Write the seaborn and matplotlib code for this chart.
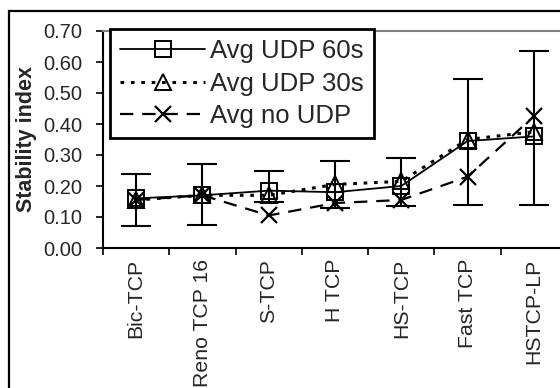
import numpy as np
import pandas as pd
import matplotlib
matplotlib.use("Agg")
import matplotlib.pyplot as plt
import seaborn as sns
from matplotlib.patches import Rectangle

# data
protocols = ["Bic-TCP", "Reno TCP 16", "S-TCP", "H TCP", "HS-TCP", "Fast TCP", "HSTCP-LP"]
udp_60s = [0.16, 0.17, 0.185, 0.18, 0.20, 0.345, 0.36]
udp_30s = [0.155, 0.17, 0.17, 0.205, 0.215, 0.35, 0.375]
no_udp = [0.155, 0.17, 0.105, 0.145, 0.155, 0.23, 0.425]
err_low = [0.07, 0.075, 0.15, 0.13, 0.135, 0.14, 0.14]
err_high = [0.24, 0.27, 0.25, 0.28, 0.29, 0.545, 0.635]
yticks = [0.0, 0.1, 0.2, 0.3, 0.4, 0.5, 0.6, 0.7]

sns.set_style("white")
plt.rcParams['font.family'] = ['Liberation Sans', 'DejaVu Sans']

W, H = 560, 388
fig = plt.figure(figsize=(W / 100, H / 100), dpi=100)
ax = fig.add_axes([103 / W, (H - 248) / H, 464 / W, 217 / H])

# outer chart border (only left and top visible)
fig.patches.append(Rectangle((8.5 / W, -0.1), 1.2, (H - 11) / H + 0.1, transform=fig.transFigure,
                             fill=False, edgecolor="black", lw=1.6, zorder=0))

x = np.arange(len(protocols))
center = np.array(udp_60s)
yerr = [center - np.array(err_low), np.array(err_high) - center]
ax.errorbar(x, center, yerr=yerr, fmt="none", ecolor="black", elinewidth=1.5,
            capsize=11, capthick=1.5, zorder=2)

df = pd.DataFrame({"x": x, "60": udp_60s, "30": udp_30s, "no": no_udp})
sns.lineplot(data=df, x="x", y="60", ax=ax, color="black", lw=1.3, marker="s", ms=11,
             mfc="none", mec="black", mew=1.4, label="Avg UDP 60s", zorder=3)
sns.lineplot(data=df, x="x", y="30", ax=ax, color="black", lw=2.2, marker="^", ms=12,
             mfc="none", mec="black", mew=1.4, linestyle=(0, (1.2, 2.2)),
             label="Avg UDP 30s", zorder=3)
sns.lineplot(data=df, x="x", y="no", ax=ax, color="black", lw=1.6, marker="x", ms=11,
             mec="black", mew=1.6, linestyle=(0, (6, 4)), label="Avg no UDP", zorder=3)

ax.set_xlim(-0.5, len(protocols) - 0.5)
ax.set_ylim(0, 0.70)
ax.set_yticks(yticks)
ax.set_yticklabels([f"{v:.2f}" for v in yticks], fontsize=14.5)
ax.set_xticks(x)
ax.set_xticklabels(protocols, rotation=90, fontsize=15.3)
ax.set_xticks(np.arange(len(protocols) + 1) - 0.5, minor=True)
ax.tick_params(axis="x", which="major", length=0, pad=8)
ax.tick_params(axis="x", which="minor", length=5, width=1.2, color="black", bottom=True)
ax.tick_params(axis="y", length=5, width=1.2, color="black", left=True, pad=10)
ax.set_xlabel("")
ax.set_ylabel("Stability index", fontsize=15.5, fontweight="bold", labelpad=4)

for s in ["left", "bottom"]:
    ax.spines[s].set_color("black")
    ax.spines[s].set_linewidth(1.5)
ax.spines["top"].set_color("#808080")
ax.spines["top"].set_linewidth(1.5)
ax.spines["right"].set_visible(False)

leg = ax.legend(loc="upper left", bbox_to_anchor=(110 / W, 1 - 29 / H),
                bbox_transform=fig.transFigure, borderaxespad=0, fontsize=18.5,
                handlelength=3.3, handletextpad=0.2, labelspacing=0.32,
                borderpad=0.4, fancybox=False, framealpha=1)
leg.get_frame().set_edgecolor("black")
leg.get_frame().set_linewidth(2)

fig.savefig("out.png", dpi=100)
